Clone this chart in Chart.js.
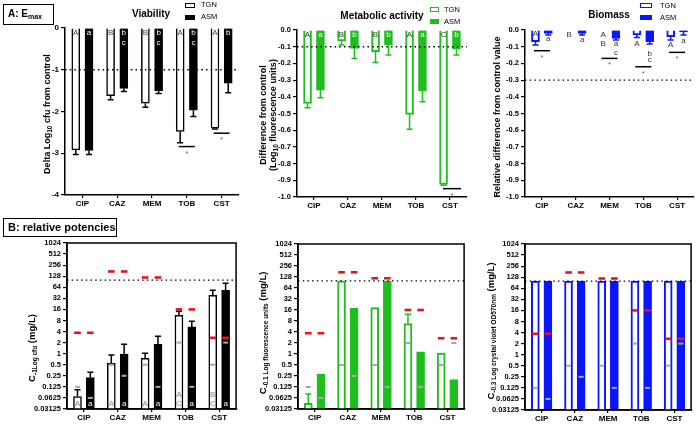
<!DOCTYPE html>
<html><head><meta charset="utf-8">
<script src="https://cdn.jsdelivr.net/npm/chart.js@4.4.1/dist/chart.umd.min.js"></script>
<style>
html,body{margin:0;padding:0;background:#fff;width:696px;height:424px;overflow:hidden;position:relative;font-family:"Liberation Sans",Arial,sans-serif;color:#000;}
canvas{position:absolute;}
.box{position:absolute;border:1.5px solid #000;font-weight:bold;box-sizing:border-box;white-space:nowrap;}
.yt{position:absolute;transform:translate(-50%,-50%) rotate(-90deg);white-space:nowrap;font-weight:bold;font-size:9px;line-height:10px;text-align:center;}
.yt sub{font-size:6.5px;vertical-align:-2px;line-height:0;}
.ttl{position:absolute;transform:translate(-50%,-50%);font-weight:bold;font-size:10px;white-space:nowrap;}
.sw{position:absolute;box-sizing:border-box;}
.lt{position:absolute;font-size:7.5px;line-height:8px;white-space:nowrap;transform:translateY(-50%);}
</style>
</head><body>
<script>
// ---------------- data ----------------
const categories = ['CIP','CAZ','MEM','TOB','CST'];

// A: Emax — Viability (Delta Log10 cfu from control)
const viabTicks = [0,-1,-2,-3,-4];
const viabTGN    = [-2.92,-1.62,-1.80,-2.48,-2.40];
const viabTGNerr = [-3.03,-1.72,-1.90,-2.75,-2.42];
const viabASM    = [-2.93,-1.45,-1.50,-1.97,-1.32];
const viabASMerr = [-3.03,-1.52,-1.57,-2.12,-1.55];
const viabLettersTGN = ['A','B','B','A','A'];
const viabLettersASM = ['a','b\nc','b\nc','b\nc','b'];
const viabSig = [null,null,null,-2.84,-2.52];
const viabCut = -1;

// A: Emax — Metabolic activity
const metTicks = [0,-0.1,-0.2,-0.3,-0.4,-0.5,-0.6,-0.7,-0.8,-0.9,-1.0];
const metTGN    = [-0.44,-0.065,-0.13,-0.505,-0.925];
const metTGNerr = [-0.465,-0.09,-0.195,-0.595,-0.93];
const metASM    = [-0.36,-0.11,-0.09,-0.365,-0.115];
const metASMerr = [-0.405,-0.17,-0.15,-0.43,-0.15];
const metLettersTGN = ['A','B','B','A','C'];
const metLettersASM = ['a','b','b','a','b'];
const metSig = [null,null,null,null,-0.95];
const metCut = -0.1;

// A: Emax — Biomass
const bioTicks = [0,-0.1,-0.2,-0.3,-0.4,-0.5,-0.6,-0.7,-0.8,-0.9,-1.0];
const bioTGN    = [-0.07,0,0,-0.03,-0.04];
const bioTGNerr = [-0.09,null,null,-0.045,-0.06];
const bioASM    = [-0.02,-0.02,-0.05,-0.07,-0.012];
const bioASMerr = [-0.03,-0.03,-0.06,-0.084,-0.03];
const bioLettersTGN = ['A','B','A\nB','A','A'];
const bioLettersASM = ['a','a','a\nc','b\nc','a'];
const bioLetterAtTGN = [[-0.02],[-0.03],[-0.03,-0.084],[-0.084],[-0.09]];
const bioLetterAtASM = [[-0.05],[-0.06],[-0.084,-0.136],[-0.14,-0.18],[-0.064]];
const bioSig = [-0.124,null,-0.17,-0.22,-0.134];
const bioCut = -0.3;

// B: relative potencies (mg/L, log2 axis)
const potTicks = [0.03125,0.0625,0.125,0.25,0.5,1,2,4,8,16,32,64,128,256,512,1024];
const potViabTGN    = [0.068,0.55,0.75,11.1,38.6];
const potViabTGNerr = [0.104,0.92,1.02,14.2,52.7];
const potViabASM    = [0.224,0.98,1.8,5.35,52.7];
const potViabASMerr = [0.31,1.79,3.0,7.6,82.7];
const potViabLettersTGN = ['A','A','A','A\nC','B\nC'];
const potViabLettersASM = ['a','a','a','a','a'];
const potMetTGN    = [0.045,100,18.6,6.8,1.06];
const potMetTGNerr = [0.08,null,null,12.3,null];
const potMetASM    = [0.28,17.9,100,1.15,0.2];
const potBioTGN = [100,100,100,100,100];
const potBioASM = [100,100,100,100,100];
const micTGN = [0.125,0.5,0.5,2,0.5];
const micASM = [0.0625,0.25,0.125,0.125,2];
const redMarks = [3.7,172,118,16,2.7];
const maxConc = 100;

// ---------------- styling / helpers ----------------
const FONT = '"Liberation Sans", Arial, sans-serif';
const GREEN = '#1fbe1f', BLUE = '#0a14ff', RED = '#e3141c', GREY = '#a8a8a8';
const OFF = 0.19;            // half distance between the two bars of a group (category units)
const X_MIN = -0.5, X_MAX = 4.5;
const pts = (vals, off) => vals.map((v, i) => ({x: i + off, y: v}));

function bar(vals, off, fill, border, bw, errEnds) {
  return {type:'bar', data: pts(vals, off), backgroundColor: fill, borderColor: border,
          borderWidth: bw, barThickness: 8, grouped: false, order: 2,
          errEnds: errEnds || null, errColor: border};
}
function marks(vals, off, color, r, w) {
  return {type:'scatter', data: pts(vals, off), pointStyle:'line', pointRadius: r, pointHoverRadius: r,
          borderColor: color, backgroundColor: color, borderWidth: w, order: 0};
}
function cutLine(v) {
  return {type:'line', data:[{x:X_MIN,y:v},{x:X_MAX,y:v}], borderColor:'#000', borderWidth:1.4,
          borderDash:[1.5,3.2], pointRadius:0, order:1};
}

const annotPlugin = {
  id: 'annot',
  afterDatasetDraw(chart, args) {
    const ds = chart.data.datasets[args.index];
    if (!ds.errEnds) return;
    const ctx = chart.ctx, ys = chart.scales.y;
    ctx.save(); ctx.strokeStyle = ds.errColor; ctx.lineWidth = 1.5;
    args.meta.data.forEach((el, i) => {
      const e = ds.errEnds[i]; if (e == null) return;
      const y1 = ys.getPixelForValue(e);
      ctx.beginPath(); ctx.moveTo(el.x, el.y); ctx.lineTo(el.x, y1);
      ctx.moveTo(el.x - 3, y1); ctx.lineTo(el.x + 3, y1); ctx.stroke();
    });
    ctx.restore();
  },
  afterDraw(chart, args, opts) {
    const ctx = chart.ctx, ca = chart.chartArea, xs = chart.scales.x, ys = chart.scales.y;
    ctx.save();
    (opts.letters || []).forEach(L => {
      const meta = chart.getDatasetMeta(L.ds);
      ctx.font = (L.size || 8) + 'px ' + FONT; ctx.fillStyle = L.color;
      ctx.textAlign = 'center'; ctx.textBaseline = 'middle';
      meta.data.forEach((el, i) => {
        const lines = L.texts[i].split('\n');
        lines.forEach((t, k) => {
          let y;
          if (L.at === 'top') y = ca.top + 5 + k * 10;
          else if (L.at === 'bottom') y = ca.bottom - 5 - (lines.length - 1 - k) * 9;
          else y = ys.getPixelForValue(L.at[i][k]);
          ctx.fillText(t, el.x, y);
        });
      });
    });
    if (opts.sig) {
      ctx.strokeStyle = '#000'; ctx.lineWidth = 1.5;
      ctx.fillStyle = '#555'; ctx.font = '7px ' + FONT; ctx.textAlign = 'center'; ctx.textBaseline = 'middle';
      opts.sig.values.forEach((v, i) => {
        if (v == null) return;
        const cx = xs.getPixelForValue(i) + (opts.sig.dx || 0), y = ys.getPixelForValue(v), hw = opts.sig.hw || 8;
        ctx.beginPath(); ctx.moveTo(cx - hw, y); ctx.lineTo(cx + hw, y); ctx.stroke();
        ctx.fillText('*', cx, y + 7);
      });
    }
    if (opts.box) {
      ctx.strokeStyle = '#000'; ctx.lineWidth = 1.5;
      ctx.strokeRect(ca.left, ca.top, ca.right - ca.left, ca.bottom - ca.top);
    }
    ctx.restore();
  }
};

function buildChart(spec) {
  const a = spec.area, yW = 46, xH = 16, padT = 8, padR = 3;
  const W = a.r - a.l + yW + padR, H = a.b - a.t + padT + xH;
  const c = document.createElement('canvas');
  c.width = W; c.height = H;
  c.style.left = (a.l - yW) + 'px'; c.style.top = (a.t - padT) + 'px';
  c.style.width = W + 'px'; c.style.height = H + 'px';
  document.body.appendChild(c);
  new Chart(c, {
    type: 'bar',
    data: {datasets: spec.datasets},
    options: {
      responsive: false, animation: false, devicePixelRatio: 1,
      layout: {padding: {top: padT, right: padR, left: 0, bottom: 0}},
      plugins: {legend: {display: false}, tooltip: {enabled: false}, annot: spec.annot},
      scales: {
        x: {type: 'linear', min: X_MIN, max: X_MAX, offset: false,
            afterBuildTicks: s => { s.ticks = categories.map((_, i) => ({value: i})); },
            afterFit: s => { s.height = xH; },
            grid: {display: true, drawOnChartArea: false, offset: false, tickLength: 3, color: '#000', lineWidth: 1.2},
            border: {display: true, color: '#000', width: 1.5},
            ticks: {autoSkip: false, maxRotation: 0, padding: 1, color: '#000',
                    font: {family: FONT, size: 8, weight: 'bold'}, callback: v => categories[v]}},
        y: {type: spec.yType, min: spec.yMin, max: spec.yMax,
            afterBuildTicks: s => { s.ticks = spec.yTicks.map(v => ({value: v})); },
            afterFit: s => { s.width = yW; },
            grid: {display: true, drawOnChartArea: false, tickLength: 4, color: '#000', lineWidth: 1.2},
            border: {display: true, color: '#000', width: 1.5},
            ticks: {autoSkip: false, padding: 2, color: '#000',
                    font: {family: FONT, size: spec.tickSize || 8, weight: 'bold'}, callback: spec.yFmt}}
      }
    },
    plugins: [annotPlugin]
  });
}

// ---------------- A: Emax ----------------
buildChart({
  area: {l: 65, r: 239, t: 28, b: 195}, yType: 'linear', yMin: -4, yMax: 0, yTicks: viabTicks,
  yFmt: v => String(v),
  datasets: [
    bar(viabTGN, -OFF, '#fff', '#000', 1.5, viabTGNerr),
    bar(viabASM, OFF, '#000', '#000', 1.5, viabASMerr),
    cutLine(viabCut)
  ],
  annot: {letters: [{ds: 0, texts: viabLettersTGN, at: 'top', color: '#444'},
                    {ds: 1, texts: viabLettersASM, at: 'top', color: '#fff'}],
          sig: {values: viabSig, hw: 8}}
});
buildChart({
  area: {l: 297, r: 467, t: 30, b: 197}, yType: 'linear', yMin: -1, yMax: 0, yTicks: metTicks,
  yFmt: v => v.toFixed(1), tickSize: 7.5,
  datasets: [
    bar(metTGN, -OFF, '#fff', GREEN, 2, metTGNerr),
    bar(metASM, OFF, GREEN, GREEN, 1.5, metASMerr),
    cutLine(metCut)
  ],
  annot: {letters: [{ds: 0, texts: metLettersTGN, at: 'top', color: '#333'},
                    {ds: 1, texts: metLettersASM, at: 'top', color: '#fff'}],
          sig: {values: metSig, hw: 9, dx: 2}}
});
buildChart({
  area: {l: 525, r: 694, t: 30, b: 197}, yType: 'linear', yMin: -1, yMax: 0, yTicks: bioTicks,
  yFmt: v => v.toFixed(1), tickSize: 7.5,
  datasets: [
    bar(bioTGN, -OFF, '#fff', BLUE, 2, bioTGNerr),
    bar(bioASM, OFF, BLUE, BLUE, 1.5, bioASMerr),
    cutLine(bioCut)
  ],
  annot: {letters: [{ds: 0, texts: bioLettersTGN, at: bioLetterAtTGN, color: '#333'},
                    {ds: 1, texts: bioLettersASM, at: bioLetterAtASM, color: '#333'}],
          sig: {values: bioSig, hw: 8}}
});

// ---------------- B: relative potencies ----------------
const potFmt = v => String(v);
function potSets(tgn, asm, color, tgnErr, asmErr, tgnBorder) {
  return [
    bar(tgn, -OFF, '#fff', color, tgnBorder, tgnErr),
    bar(asm, OFF, color, color, 1.5, asmErr),
    cutLine(maxConc),
    marks(micTGN, -OFF, GREY, 2.5, 2),
    marks(micASM, OFF, GREY, 2.5, 2),
    marks(redMarks, -OFF, RED, 3.3, 2.6),
    marks(redMarks, OFF, RED, 3.3, 2.6)
  ];
}
buildChart({
  area: {l: 67, r: 239, t: 243, b: 409}, yType: 'logarithmic', yMin: 0.03125, yMax: 1024, yTicks: potTicks,
  yFmt: potFmt, tickSize: 7.5,
  datasets: potSets(potViabTGN, potViabASM, '#000', potViabTGNerr, potViabASMerr, 1.5),
  annot: {letters: [{ds: 0, texts: potViabLettersTGN, at: 'bottom', color: '#888'},
                    {ds: 1, texts: potViabLettersASM, at: 'bottom', color: '#fff'}],
          box: true}
});
buildChart({
  area: {l: 298, r: 467, t: 244, b: 409}, yType: 'logarithmic', yMin: 0.03125, yMax: 1024, yTicks: potTicks,
  yFmt: potFmt, tickSize: 7.5,
  datasets: potSets(potMetTGN, potMetASM, GREEN, potMetTGNerr, null, 2),
  annot: {box: true}
});
buildChart({
  area: {l: 525, r: 694, t: 244, b: 410}, yType: 'logarithmic', yMin: 0.03125, yMax: 1024, yTicks: potTicks,
  yFmt: potFmt, tickSize: 7.5,
  datasets: potSets(potBioTGN, potBioASM, BLUE, null, null, 2),
  annot: {box: true}
});
</script>

<!-- panel labels -->
<div class="box" style="left:3px;top:4px;width:51px;height:21px;font-size:10px;line-height:18px;padding-left:4px;">A: E<sub style="font-size:7px;vertical-align:-2px;line-height:0;">max</sub></div>
<div class="box" style="left:3px;top:218px;width:114px;height:19px;font-size:11px;line-height:16px;padding-left:4px;">B: relative potencies</div>

<!-- titles -->
<div class="ttl" style="left:151px;top:13px;">Viability</div>
<div class="ttl" style="left:382px;top:15px;">Metabolic activity</div>
<div class="ttl" style="left:609px;top:14px;">Biomass</div>

<!-- legends -->
<div class="sw" style="left:185px;top:3px;width:10px;height:5px;border:1px solid #000;background:#fff;"></div>
<div class="lt" style="left:201px;top:5px;">TGN</div>
<div class="sw" style="left:185px;top:15px;width:10px;height:5px;background:#000;"></div>
<div class="lt" style="left:201px;top:17px;">ASM</div>

<div class="sw" style="left:430px;top:7px;width:9px;height:5px;border:1.5px solid #1fbe1f;background:#fff;"></div>
<div class="lt" style="left:444px;top:10px;">TGN</div>
<div class="sw" style="left:430px;top:19px;width:9px;height:5px;background:#1fbe1f;"></div>
<div class="lt" style="left:444px;top:22px;">ASM</div>

<div class="sw" style="left:640px;top:3px;width:12px;height:5px;border:1.5px solid #0a14ff;background:#fff;"></div>
<div class="lt" style="left:660px;top:6px;">TGN</div>
<div class="sw" style="left:640px;top:15px;width:12px;height:5px;background:#0a14ff;"></div>
<div class="lt" style="left:660px;top:18px;">ASM</div>

<!-- y-axis titles -->
<div class="yt" style="left:47px;top:114px;">Delta Log<sub>10</sub> cfu from control</div>
<div class="yt" style="left:268px;top:115px;">Difference from control<br>(Log<sub>10</sub> fluorescence units)</div>
<div class="yt" style="left:497px;top:117px;">Relative difference from control value</div>
<div class="yt" style="left:32px;top:348px;font-size:9.5px;">C<sub>-1Log cfu</sub> (mg/L)</div>
<div class="yt" style="left:263px;top:333px;font-size:9.5px;">C<sub>-0.1 Log fluorescence units</sub> (mg/L)</div>
<div class="yt" style="left:491px;top:331px;font-size:9.5px;">C<sub>-0.3 Log crystal violet OD570nm</sub> (mg/L)</div>
</body></html>
